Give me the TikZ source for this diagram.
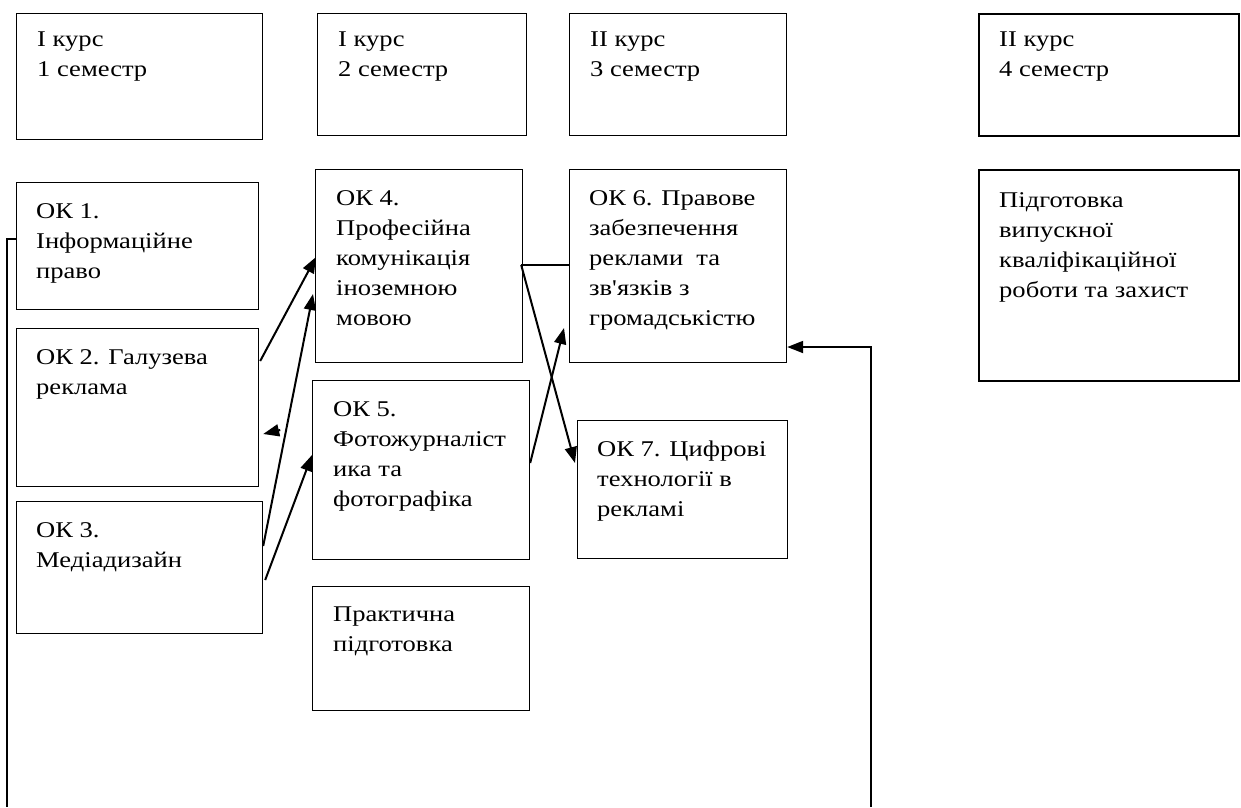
\documentclass[tikz,border=0pt]{standalone}
\usepackage{fontspec}
\setmainfont[FakeStretch=1.18]{Liberation Serif}
\newfontfamily\plainfont[FakeStretch=1.18]{Liberation Serif}
\usetikzlibrary{calc,arrows.meta}
\tikzset{
  box/.style={draw, line width=1.2pt, inner sep=0pt, anchor=north west},
  thickbox/.style={box, line width=2pt},
  txt/.style={anchor=north west, inner sep=0pt, align=left, font=\fontsize{22.5}{30}\selectfont},
  arr/.style={line width=2pt, -{Triangle[length=16pt,width=12pt]}},
  ln/.style={line width=1.5pt},
}
\newcommand\mybox[7][box]{%
  \node[#1, minimum width=#4, minimum height=#5] (#2) at (#3) {};
  \node[txt] (#2t) at ($(#2.north west)+(#6)$) {#7};
}
\begin{document}
\begin{tikzpicture}[x=1pt,y=-1pt]
\useasboundingbox (0,0) rectangle (1241,807);
% headers
\mybox{h1}{16,13}{246}{126}{21,19}{I курс\\1 семестр}
\mybox{h2}{317,13}{209}{122}{21,19}{I курс\\2 семестр}
\mybox{h3}{569,13}{217}{122}{21,19}{II курс\\3 семестр}
\mybox[thickbox]{h4}{978,13}{260}{122}{21,19}{II курс\\4 семестр}
% column 1
\mybox{ok1}{16,182}{242}{127}{20,21}{ОК 1.\\Інформаційне\\право}
\mybox{ok2}{16,328}{242}{158}{20,21}{ОК 2. Галузева\\реклама}
\mybox{ok3}{16,501}{246}{132}{20,21}{ОК 3.\\Медіадизайн}
% column 2
\mybox{ok4}{315,169}{207}{193}{21,21}{ОК 4.\\Професійна\\комунікація\\іноземною\\мовою}
\mybox{ok5}{312,380}{217}{179}{21,21}{ОК 5.\\Фотожурналіст\\ика та\\фотографіка}
\mybox{pr}{312,586}{217}{124}{21,21}{Практична\\підготовка}
% column 3
\mybox{ok6}{569,169}{217}{193}{20,21}{ОК 6. Правове\\забезпечення\\реклами\ \ та\\{\plainfont зв'язків} з\\громадськістю}
\mybox{ok7}{577,420}{210}{138}{20,21}{ОК 7. Цифрові\\технології в\\рекламі}
% column 4
\mybox[thickbox]{pg}{978,169}{260}{211}{21,23}{Підготовка\\випускної\\кваліфікаційної\\роботи та захист}
% connectors
\draw[arr] ($(ok2.north east)+(1,33)$) -- ($(ok4.north west)+(1,88)$);
\draw[arr] ($(ok3.north east)+(0,45)$) -- ($(ok4.north west)+(-2,125)$);
\coordinate (fa1) at ($(ok2.north east)+(21,102)$);
\coordinate (fa2) at ($(ok2.north east)+(4,106)$);
\draw[arr] (fa1) -- (fa2);
\draw[arr] ($(ok3.north east)+(2,79)$) -- ($(ok5.north west)+(0,75)$);
\draw[ln] ($(ok4.north east)+(-2,96)$) -- ($(ok6.north west)+(0,96)$);
\draw[arr] ($(ok4.north east)+(-2,96)$) -- ($(ok7.north west)+(-2,43)$);
\draw[arr] ($(ok5.north east)+(0,83)$) -- ($(ok6.north west)+(-5,159)$);
\coordinate (bl) at (7,807);
\coordinate (br) at (871,807);
\draw[ln] ($(ok1.north west)+(0,57)$) -| (bl);
\draw[arr] (br) |- ($(ok6.north east)+(0,178)$);
\end{tikzpicture}
\end{document}
